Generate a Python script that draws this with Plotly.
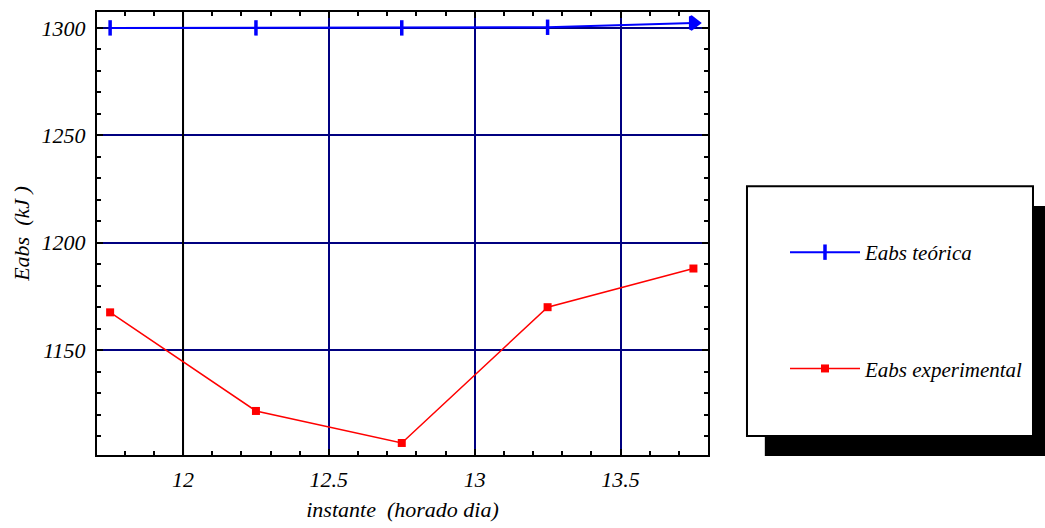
import plotly.graph_objects as go

# data
instante = [11.75, 12.25, 12.75, 13.25, 13.75]
eabs_teorica = [1300.0, 1300.0, 1300.0, 1300.3, 1302.3]
eabs_experimental = [1167.6, 1121.7, 1106.8, 1170.0, 1188.0]
xticks = [12, 12.5, 13, 13.5]
xticklabels = ["12", "12.5", "13", "13.5"]
yticks = [1150, 1200, 1250, 1300]
yticklabels = ["1150", "1200", "1250", "1300"]
names = ["Eabs teórica", "Eabs experimental"]

FONT = "Liberation Serif"
NAVY = "#000080"

fig = go.Figure()

# black grid line at first x tick (as in reference)
fig.add_trace(go.Scatter(
    x=[xticks[0], xticks[0]], y=[1101.2, 1307.4], mode="lines",
    line=dict(color="black", width=2), showlegend=False, hoverinfo="skip",
))

fig.add_trace(go.Scatter(
    x=instante, y=eabs_teorica, mode="lines+markers", name=names[0],
    legendgroup="a",
    line=dict(color="#0000ff", width=2),
    marker=dict(symbol=["line-ns"] * 4 + ["triangle-right"], size=11, color="#0000ff",
                line=dict(color="#0000ff", width=3.5)),
))
fig.add_trace(go.Scatter(
    x=instante, y=eabs_experimental, mode="lines+markers", name=names[1],
    legendgroup="b",
    line=dict(color="#ff0000", width=1.5),
    marker=dict(symbol="square", size=8, color="#ff0000"),
))

# legend box with shadow
fig.add_shape(type="rect", xref="paper", yref="paper", x0=1.093, x1=1.56, y0=-0.002, y1=0.562,
              fillcolor="black", line=dict(width=0), layer="above")
fig.add_shape(type="rect", xref="paper", yref="paper", x0=1.0638, x1=1.5319, y0=0.0427, y1=0.6067,
              fillcolor="white", line=dict(color="black", width=2), layer="above")

fig.update_layout(
    width=1045, height=528,
    margin=dict(l=97, r=337, t=10, b=73),
    paper_bgcolor="white", plot_bgcolor="white",
    showlegend=True,
    legend=dict(x=(785 - 97) / 611, xanchor="left", y=(455 - 231) / 445, yanchor="top",
                bgcolor="rgba(0,0,0,0)", borderwidth=0, itemwidth=70,
                tracegroupgap=86,
                font=dict(family=FONT, size=21, color="black", style="italic")),
    xaxis=dict(range=[11.705, 13.80], tickvals=xticks,
               ticktext=[f"<i>{t}</i>" for t in xticklabels],
               showgrid=True, gridcolor=NAVY, gridwidth=2,
               showline=True, linecolor="black", linewidth=2, mirror="ticks",
               ticks="inside", ticklen=6, tickcolor="black", tickwidth=2,
               ticklabelstandoff=4,
               minor=dict(dtick=0.1, ticks="inside", ticklen=4, tickcolor="black", showgrid=False),
               zeroline=False,
               tickfont=dict(family=FONT, size=22, color="black"),
               title=dict(text="<i>instante  (horado dia)</i>", standoff=10,
                          font=dict(family=FONT, size=22, color="black"))),
    yaxis=dict(range=[1101.2, 1307.4], tickvals=yticks,
               ticktext=[f"<i>{t}</i>" for t in yticklabels],
               showgrid=True, gridcolor=NAVY, gridwidth=2,
               showline=True, linecolor="black", linewidth=2, mirror="ticks",
               ticks="inside", ticklen=6, tickcolor="black", tickwidth=2,
               ticklabelstandoff=5,
               minor=dict(dtick=10, ticks="inside", ticklen=4, tickcolor="black", showgrid=False),
               zeroline=False,
               tickfont=dict(family=FONT, size=22, color="black"),
               title=dict(text="<i>Eabs  (kJ )</i>", standoff=6,
                          font=dict(family=FONT, size=22, color="black"))),
)

fig.write_html("out.html")
